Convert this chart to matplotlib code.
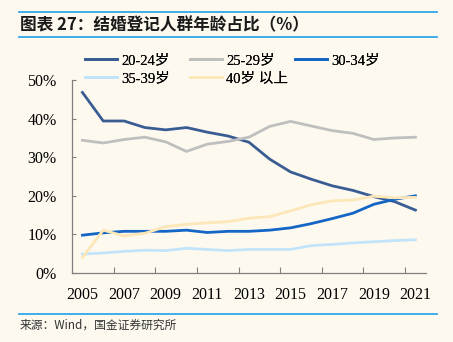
#!/usr/bin/env python3

import matplotlib
matplotlib.use("Agg")
import matplotlib.pyplot as plt
from matplotlib.lines import Line2D
from matplotlib.ticker import FixedLocator, FuncFormatter

# data (share of marriage registrations, %)
years = list(range(2005, 2022))
age_20_24 = [46.8, 39.4, 39.4, 37.7, 37.1, 37.7, 36.5, 35.5, 33.9, 29.5,
             26.2, 24.3, 22.6, 21.4, 19.8, 18.5, 16.3]
age_25_29 = [34.4, 33.7, 34.6, 35.2, 34.0, 31.5, 33.4, 34.1, 35.2, 38.0,
             39.3, 38.1, 36.9, 36.2, 34.6, 35.0, 35.2]
age_30_34 = [9.8, 10.4, 10.8, 10.8, 10.8, 11.1, 10.5, 10.8, 10.8, 11.1,
             11.7, 12.8, 14.1, 15.5, 17.8, 19.1, 20.0]
age_35_39 = [4.9, 5.2, 5.6, 5.9, 5.8, 6.4, 6.1, 5.8, 6.1, 6.1,
             6.1, 7.1, 7.4, 7.8, 8.1, 8.4, 8.6]
age_40_up = [4.0, 11.1, 9.6, 10.3, 12.0, 12.6, 13.0, 13.3, 14.2, 14.6,
             16.1, 17.7, 18.7, 18.9, 19.9, 19.5, 19.6]

series = [
    ("20-24岁", age_20_24, "#395D93"),
    ("25-29岁", age_25_29, "#BFBFBF"),
    ("30-34岁", age_30_34, "#1466C6"),
    ("35-39岁", age_35_39, "#C2E4FA"),
    ("40岁 以上", age_40_up, "#FDE7B8"),
]
year_labels = [y for y in years if (y - 2005) % 2 == 0]
y_ticks = [0, 10, 20, 30, 40, 50]

BG = "#FEF9EF"
RULE = "#2EA8EA"
SERIF = ["Liberation Serif", "Noto Sans CJK SC"]
CJK = ["Noto Sans CJK SC", "DejaVu Sans"]


def main():
    fig = plt.figure(figsize=(4.53, 3.42), dpi=100, facecolor=BG)
    ax = fig.add_axes([0.159, 0.2018, 0.781, 0.564], facecolor=BG)

    for name, vals, color in series:
        ax.plot(years, vals, color=color, lw=2.0, label=name,
                solid_joinstyle="round")

    ax.set_xlim(2004.5, 2021.5)
    ax.set_ylim(0, 50)

    ax.xaxis.set_major_locator(FixedLocator(year_labels))
    ax.xaxis.set_minor_locator(FixedLocator([y + 1.5 for y in year_labels[:-1]]))
    ax.yaxis.set_major_locator(FixedLocator(y_ticks))
    ax.yaxis.set_major_formatter(FuncFormatter(lambda v, p: f"{v:.0f}%"))

    ax.tick_params(axis="x", which="major", length=0, pad=10)
    ax.tick_params(axis="x", which="minor", direction="in", length=4,
                   color="#808080", width=0.8)
    ax.tick_params(axis="y", direction="in", length=3, pad=11,
                   color="#808080", width=0.8)
    for lab in ax.get_xticklabels() + ax.get_yticklabels():
        lab.set_fontfamily(SERIF)
        lab.set_fontsize(11.5)

    for side in ("top", "right"):
        ax.spines[side].set_visible(False)
    for side in ("left", "bottom"):
        ax.spines[side].set_color("#808080")
        ax.spines[side].set_linewidth(0.9)

    # legend: three columns placed like the original
    handles = [Line2D([], [], color=c, lw=2.0) for _, _, c in series]
    labels = [n for n, _, _ in series]
    col_x = [85, 190, 295]
    for i, x0 in enumerate(col_x):
        idx = [j for j in (i, i + 3) if j < len(series)]
        leg = fig.legend([handles[j] for j in idx], [labels[j] for j in idx],
                         loc="upper left",
                         bbox_to_anchor=(x0 / 453, 1 - 54 / 342),
                         frameon=False, borderpad=0, borderaxespad=0,
                         handlelength=2.2, handletextpad=0.3,
                         labelspacing=0.35,
                         prop={"family": SERIF, "size": 10.5})
        for t in leg.get_texts():
            t.set_fontfamily(SERIF)
        fig.add_artist(leg)

    # header and footer rules
    for yy in (12, 37, 314):
        fig.add_artist(Line2D([19 / 453, 437 / 453], [1 - yy / 342] * 2,
                              color=RULE, lw=1.3))

    fig.text(20 / 453, 1 - 25 / 342, "图表 27：结婚登记人群年龄占比（%）",
             family=CJK, fontsize=12, fontweight="bold", color="#1A1A1A",
             va="center", ha="left")
    fig.text(20 / 453, 1 - 325 / 342, "来源：Wind，国金证券研究所",
             family=CJK, fontsize=8.5, color="#333333",
             va="center", ha="left")

    fig.savefig("out.png", dpi=100, facecolor=BG)


if __name__ == "__main__":
    main()
